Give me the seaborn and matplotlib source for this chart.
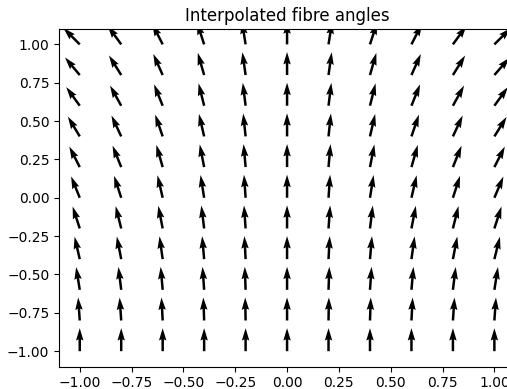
import matplotlib
matplotlib.use('Agg')
import numpy as np
import pandas as pd
import seaborn as sns
import matplotlib.pyplot as plt

# Grid positions of the arrows
x_positions = [-1.0, -0.8, -0.6, -0.4, -0.2, 0.0, 0.2, 0.4, 0.6, 0.8, 1.0]
y_positions = [-1.0, -0.8, -0.6, -0.4, -0.2, 0.0, 0.2, 0.4, 0.6, 0.8, 1.0]

# Tilt of each arrow from vertical in degrees,
# negative = leaning left, one row per y position (bottom to top)
tilt_rows = [
    [0, 0, 0, 0, 0, 0, 0, 0, 0, 0, 0],
    [-4, -4, -3, -2, -1, 0, 1, 2, 3, 4, 4],
    [-9, -7, -5, -4, -2, 0, 2, 4, 5, 7, 9],
    [-13, -11, -8, -5, -3, 0, 3, 5, 8, 11, 14],
    [-18, -14, -11, -7, -4, 0, 4, 7, 11, 14, 18],
    [-22, -18, -13, -9, -4, 0, 4, 9, 13, 18, 23],
    [-27, -22, -16, -11, -5, 0, 5, 11, 16, 22, 27],
    [-31, -25, -19, -13, -6, 0, 6, 13, 19, 25, 32],
    [-36, -29, -22, -14, -7, 0, 7, 14, 22, 29, 36],
    [-40, -32, -24, -16, -8, 0, 8, 16, 24, 32, 41],
    [-45, -36, -27, -18, -9, 0, 9, 18, 27, 36, 45],
]

# Build a long table of arrows
records = []
for j, y in enumerate(y_positions):
    for i, x in enumerate(x_positions):
        records.append({'x': x, 'y': y, 'tilt': tilt_rows[j][i]})
arrows = pd.DataFrame(records)
arrows['u'] = np.sin(np.deg2rad(arrows['tilt']))
arrows['v'] = np.cos(np.deg2rad(arrows['tilt']))

sns.set_style('ticks')
plt.rcParams['font.family'] = ['DejaVu Sans']
plt.rcParams['axes.edgecolor'] = 'black'
plt.rcParams['xtick.color'] = 'black'
plt.rcParams['ytick.color'] = 'black'
plt.rcParams['text.color'] = 'black'
plt.rcParams['xtick.major.size'] = 3.5
plt.rcParams['ytick.major.size'] = 3.5
plt.rcParams['axes.linewidth'] = 0.8

fig = plt.figure(figsize=(5.07, 3.89), dpi=100)
ax = fig.add_axes([0.1164, 0.0578, 0.8996, 0.8676])

ax.quiver(arrows['x'], arrows['y'], arrows['u'], arrows['v'], color='black')
ax.set_xlim(-1.1, 1.1)
ax.set_ylim(-1.1, 1.1)
ax.set_xticks([-1.0, -0.75, -0.5, -0.25, 0.0, 0.25, 0.5, 0.75, 1.0])
ax.set_yticks([-1.0, -0.75, -0.5, -0.25, 0.0, 0.25, 0.5, 0.75, 1.0])
ax.set_xticklabels([f'{t:.2f}'.replace('-', '\u2212') for t in ax.get_xticks()], fontsize=10)
ax.set_yticklabels([f'{t:.2f}'.replace('-', '\u2212') for t in ax.get_yticks()], fontsize=10)
ax.set_title('Interpolated fibre angles', fontsize=12)

fig.savefig('out.png', dpi=100)
plt.close()
